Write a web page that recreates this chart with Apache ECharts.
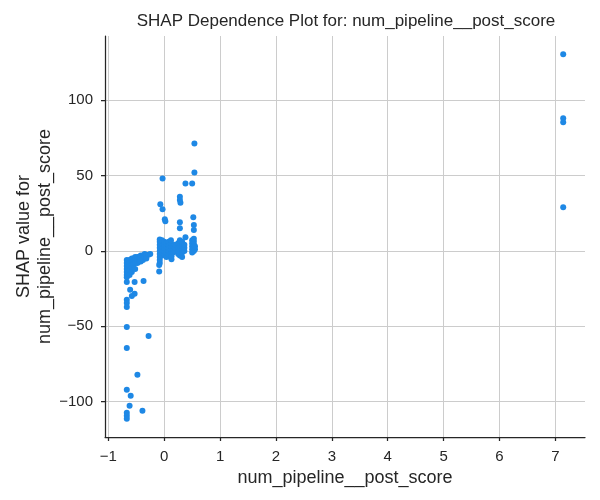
<!DOCTYPE html>
<html>
<head>
<meta charset="utf-8">
<script src="https://cdn.jsdelivr.net/npm/echarts@6/dist/echarts.min.js"></script>
<style>
  html, body { margin: 0; padding: 0; background: #fff; }
  #main { width: 600px; height: 500px; }
</style>
</head>
<body>
<div id="main"></div>
<script>
var chartDom = document.getElementById('main');
var myChart = echarts.init(chartDom);
var option;

const featureName = 'num_pipeline__post_score';
const xTicks = [-1, 0, 1, 2, 3, 4, 5, 6, 7];
const yTicks = [-100, -50, 0, 50, 100];

// [feature value, SHAP value]
const outliers = [[7.14, 130.6], [7.14, 88.1], [7.14, 85.5], [7.14, 29.0]];

const upperPoints = [
    [0.54, 71.3], [0.54, 52.1], [-0.03, 48.1], [0.38, 44.8], [0.50, 44.8],
    [0.28, 36], [0.28, 33.8], [0.29, 32], [-0.07, 30.9], [-0.03, 27.6],
    [0.01, 21], [0.02, 19.7], [0.52, 22.3], [0.28, 19], [0.28, 15],
    [0.53, 17.2], [0.53, 13.9], [0.38, 9]
];

const lowerPoints = [
    [-0.09, -13.7], [-0.09, -9.3], [-0.37, -20], [-0.67, -20.7], [-0.53, -20.7],
    [-0.61, -25.8], [-0.53, -28.5], [-0.58, -30], [-0.67, -32.5], [-0.67, -34.6],
    [-0.67, -37.3], [-0.67, -50.5], [-0.28, -56.5], [-0.67, -64.5], [-0.48, -82.3],
    [-0.67, -92.3], [-0.60, -96.2], [-0.62, -102.8], [-0.39, -106.2], [-0.67, -107.5],
    [-0.67, -109.5], [-0.67, -111.5]
];

const centreCluster = [
    [-0.08, -8], [-0.08, -6], [-0.08, -4], [-0.08, -2], [-0.08, 0], [-0.08, 2], [-0.08, 4], [-0.08, 6], [-0.08, 7.5],
    [-0.04, -3], [-0.04, -1], [-0.04, 1], [-0.04, 3], [-0.04, 5], [-0.04, 7],
    [0.0, -2], [0.0, 0], [0.0, 2], [0.0, 4], [0.0, 6],
    [0.04, -4], [0.04, -1], [0.04, 1], [0.04, 3], [0.04, 5],
    [0.08, -2], [0.08, 0], [0.08, 2], [0.08, 4], [0.08, 6],
    [0.12, -4], [0.12, -2], [0.12, 1], [0.12, 3], [0.12, 5], [0.12, 7],
    [0.13, -5.5], [0.13, -3.5],
    [0.16, -1], [0.16, 1], [0.16, 3],
    [0.19, 0], [0.19, 2], [0.19, 4],
    [0.25, -2], [0.25, 0], [0.25, 2], [0.25, 5],
    [0.28, -3], [0.28, -1], [0.28, 1], [0.28, 3], [0.28, 5], [0.28, 7],
    [0.32, -4], [0.32, -1], [0.32, 1], [0.32, 3], [0.32, 6],
    [0.36, 0], [0.36, 2], [0.36, 4],
    [0.50, -1], [0.50, 1], [0.50, 3], [0.50, 5], [0.50, 7],
    [0.53, 0], [0.53, 2], [0.53, 4], [0.53, 6], [0.53, 8],
    [0.55, 1], [0.55, 3]
];

const leftCluster = [
    [-0.67, -6], [-0.67, -8], [-0.67, -10], [-0.67, -12], [-0.67, -14], [-0.67, -16], [-0.67, -17.5],
    [-0.65, -7], [-0.65, -9], [-0.65, -11], [-0.65, -13], [-0.65, -15],
    [-0.62, -6], [-0.62, -8], [-0.62, -10], [-0.62, -13], [-0.62, -16],
    [-0.58, -5], [-0.58, -7], [-0.58, -9], [-0.58, -11], [-0.58, -14],
    [-0.55, -5], [-0.55, -7], [-0.55, -9],
    [-0.52, -4], [-0.52, -6], [-0.52, -8], [-0.52, -12],
    [-0.48, -4], [-0.48, -6], [-0.48, -8],
    [-0.45, -4], [-0.45, -5], [-0.45, -7],
    [-0.42, -3], [-0.42, -5], [-0.42, -7],
    [-0.38, -3], [-0.38, -4], [-0.38, -6],
    [-0.35, -2], [-0.35, -4],
    [-0.32, -3], [-0.32, -5],
    [-0.28, -2.5], [-0.25, -2]
];

const points = leftCluster.concat(centreCluster, lowerPoints, upperPoints, outliers);

const textColor = '#262626';
const fontFamily = 'Liberation Sans, Arial, sans-serif';
const minusFmt = function (v) { return String(v).replace('-', '\u2212'); };

option = {
    animation: false,
    backgroundColor: '#fff',
    graphic: [{
        type: 'text',
        x: 346,
        y: 21,
        style: {
            text: 'SHAP Dependence Plot for: ' + featureName,
            fill: textColor,
            font: '17px ' + fontFamily,
            textAlign: 'center',
            textVerticalAlign: 'middle'
        }
    }],
    grid: {
        left: 105,
        right: 15,
        top: 36,
        bottom: 63,
        containLabel: false
    },
    xAxis: {
        type: 'value',
        min: -1.06,
        max: 7.53,
        name: featureName,
        nameLocation: 'middle',
        nameGap: 30,
        nameTextStyle: { color: textColor, fontSize: 18, fontFamily: fontFamily },
        axisLine: { show: true, onZero: false, lineStyle: { color: textColor, width: 1.25 } },
        axisTick: { show: true, length: 4, customValues: xTicks, lineStyle: { color: textColor, width: 1.25 } },
        axisLabel: {
            customValues: xTicks,
            color: textColor, fontSize: 15, fontFamily: fontFamily, margin: 12,
            formatter: minusFmt
        },
        splitLine: { show: true, lineStyle: { color: '#cccccc', width: 1 } }
    },
    yAxis: {
        type: 'value',
        min: -123.6,
        max: 142.7,
        name: 'SHAP value for\n' + featureName,
        nameLocation: 'middle',
        nameGap: 49,
        nameRotate: 90,
        nameMoveOverlap: false,
        nameTextStyle: { color: textColor, fontSize: 18, fontFamily: fontFamily, lineHeight: 21 },
        axisLine: { show: true, onZero: false, lineStyle: { color: textColor, width: 1.25 } },
        axisTick: { show: true, length: 4, customValues: yTicks, lineStyle: { color: textColor, width: 1.25 } },
        axisLabel: {
            customValues: yTicks,
            color: textColor, fontSize: 15, fontFamily: fontFamily, margin: 12,
            formatter: minusFmt
        },
        splitLine: { show: true, lineStyle: { color: '#cccccc', width: 1 } }
    },
    series: [
        {
            type: 'scatter',
            symbol: 'circle',
            symbolSize: 6,
            itemStyle: { color: '#1E88E5', opacity: 1 },
            data: points
        }
    ]
};

option && myChart.setOption(option);
</script>
</body>
</html>
